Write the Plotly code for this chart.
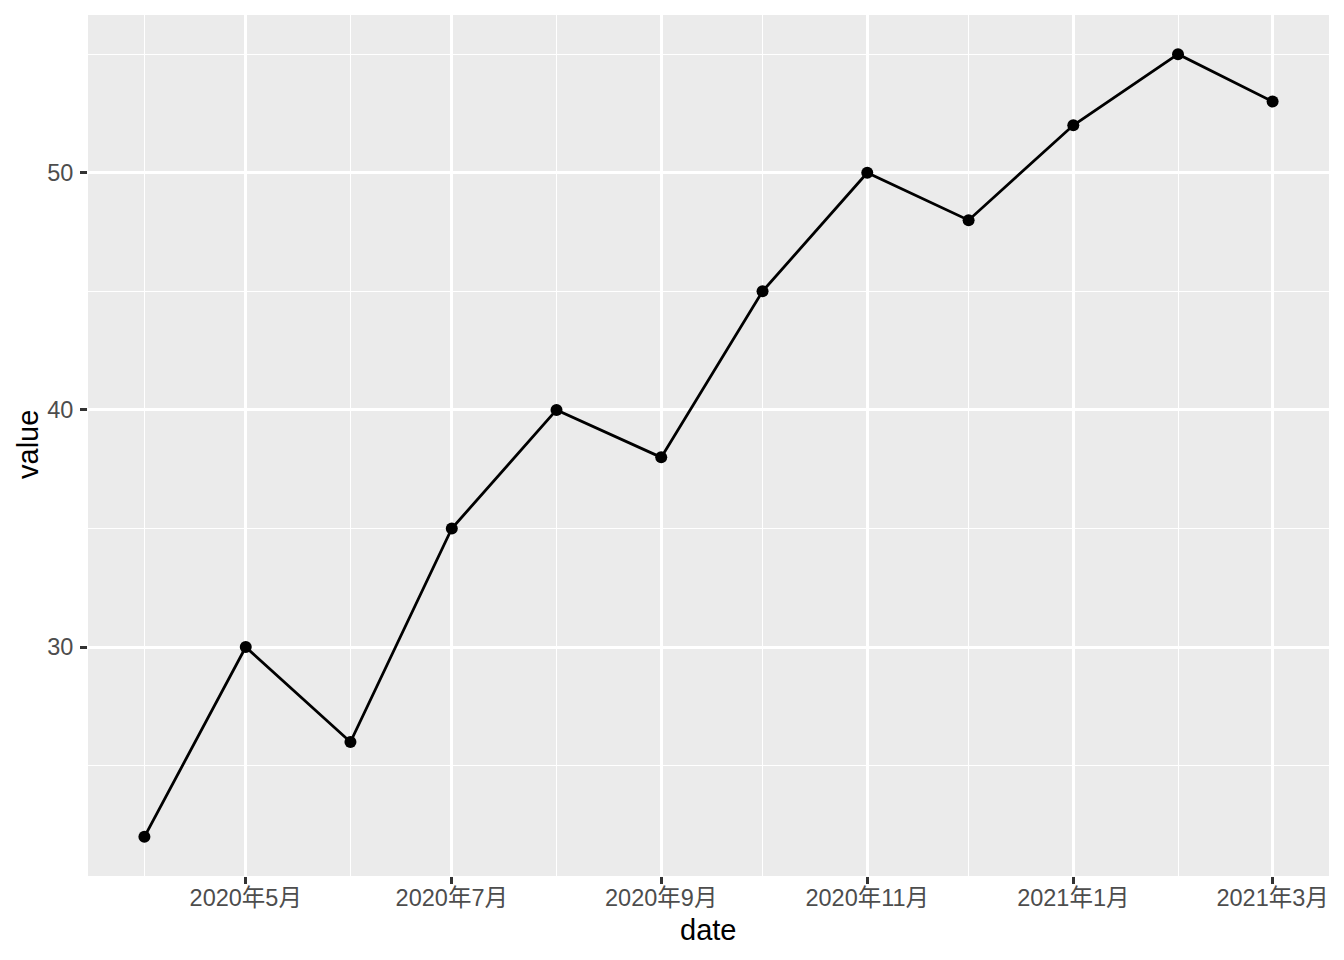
import plotly.graph_objects as go

dates = ["2020-04-01", "2020-05-01", "2020-06-01", "2020-07-01", "2020-08-01", "2020-09-01",
         "2020-10-01", "2020-11-01", "2020-12-01", "2021-01-01", "2021-02-01", "2021-03-01"]
values = [22, 30, 26, 35, 40, 38, 45, 50, 48, 52, 55, 53]

x_tickvals = ["2020-05-01", "2020-07-01", "2020-09-01", "2020-11-01", "2021-01-01", "2021-03-01"]
x_ticktext = ["2020年5月", "2020年7月", "2020年9月", "2020年11月", "2021年1月", "2021年3月"]
y_tickvals = [30, 40, 50]

FONT = "Liberation Sans, Arial, Noto Sans CJK SC, sans-serif"
W, H = 1344, 960
ML, MR, MT, MB = 88, 15, 15, 84

fig = go.Figure()
fig.add_trace(go.Scatter(
    x=dates, y=values, mode="lines+markers",
    line=dict(color="black", width=2.8),
    marker=dict(color="black", size=12),
    showlegend=False,
))

plot_h = H - MT - MB
plot_w = W - ML - MR

fig.update_layout(
    width=W, height=H,
    margin=dict(l=ML, r=MR, t=MT, b=MB),
    paper_bgcolor="white",
    plot_bgcolor="#EBEBEB",
    font=dict(family=FONT, color="#4D4D4D", size=23.5),
    xaxis=dict(
        type="date",
        range=["2020-03-15 07:12", "2021-03-17 16:48"],
        tickvals=x_tickvals, ticktext=x_ticktext,
        showgrid=True, gridcolor="white", gridwidth=2.8,
        minor=dict(dtick="M1", tick0="2020-04-01", showgrid=True, gridcolor="white", gridwidth=1.4, ticks=""),
        ticks="outside", ticklen=7, tickwidth=2.5, tickcolor="#333333",
        tickfont=dict(size=23.5, color="#4D4D4D", family=FONT),
        ticklabelstandoff=-6,
        zeroline=False, showline=False,
    ),
    yaxis=dict(
        range=[20.35, 56.65],
        tickvals=y_tickvals,
        showgrid=True, gridcolor="white", gridwidth=2.8,
        minor=dict(dtick=5, tick0=0, showgrid=True, gridcolor="white", gridwidth=1.4, ticks=""),
        ticks="outside", ticklen=7, tickwidth=2.5, tickcolor="#333333",
        tickfont=dict(size=23.5, color="#4D4D4D", family=FONT),
        ticklabelstandoff=2,
        zeroline=False, showline=False,
    ),
    annotations=[
        dict(text="date", xref="paper", yref="paper",
             x=(708 - ML) / plot_w, y=(H - MB - 930) / plot_h,
             xanchor="center", yanchor="middle", showarrow=False,
             font=dict(size=29, color="black", family=FONT)),
        dict(text="value", xref="paper", yref="paper",
             x=(28 - ML) / plot_w, y=(H - MB - 445) / plot_h,
             xanchor="center", yanchor="middle", showarrow=False, textangle=-90,
             font=dict(size=29, color="black", family=FONT)),
    ],
)

fig.write_html("out.html", config={"displayModeBar": False},
               post_script="document.body.style.margin='0';document.body.style.padding='0';")
